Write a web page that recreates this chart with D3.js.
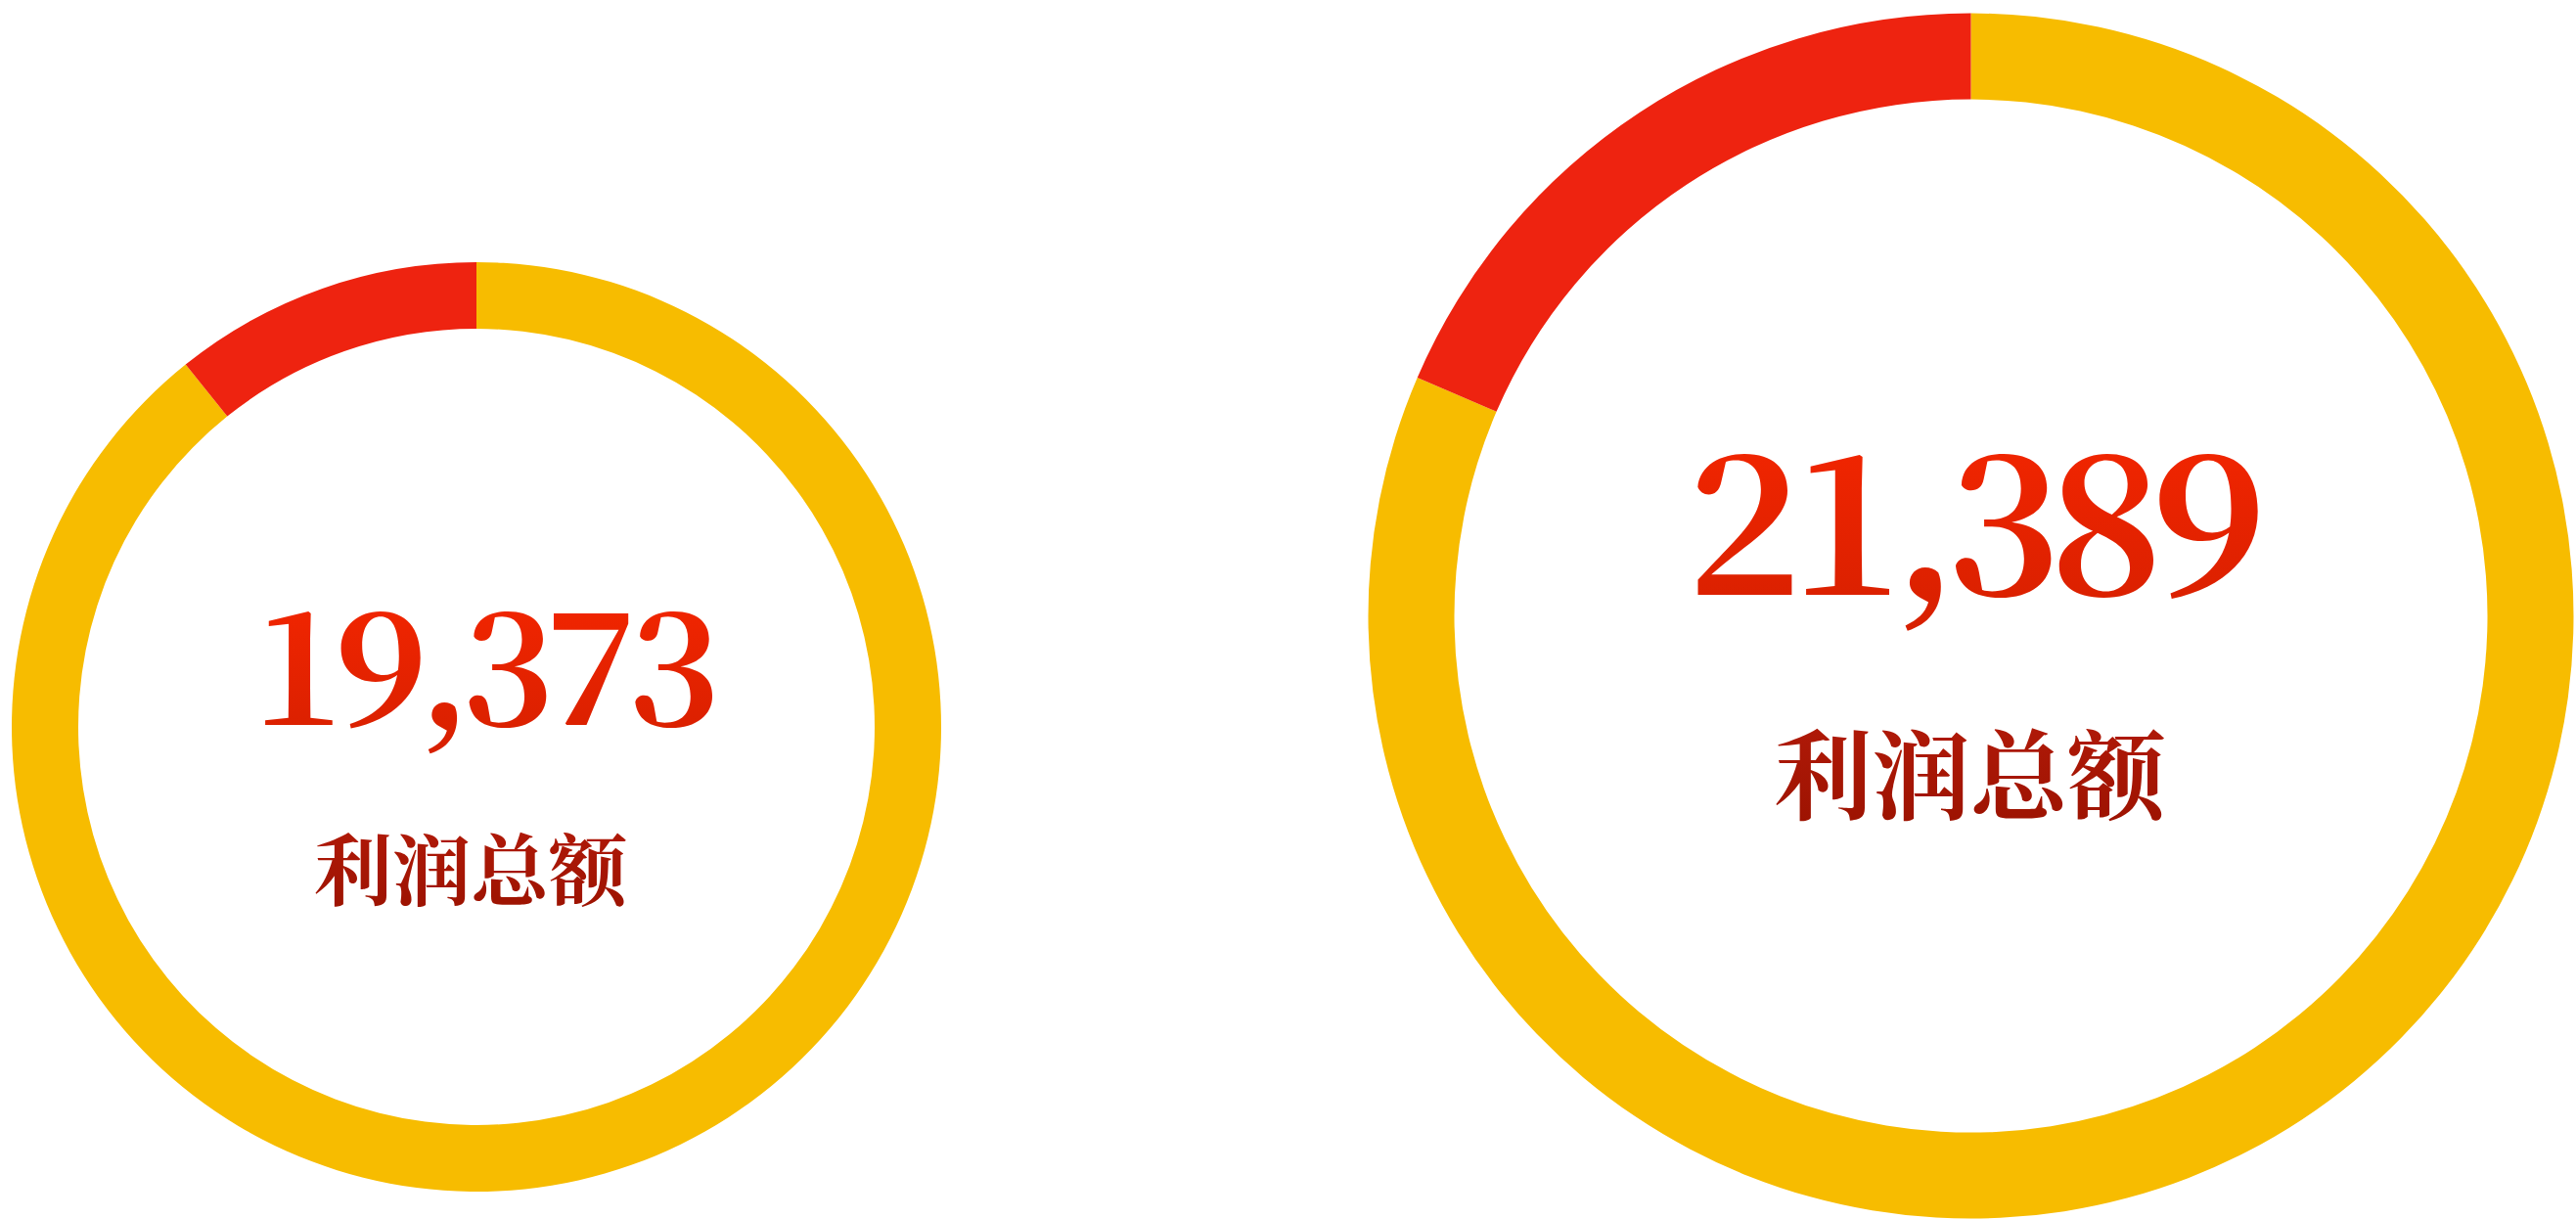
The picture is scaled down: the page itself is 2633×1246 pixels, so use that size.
<!DOCTYPE html>
<html>
<head>
<meta charset="utf-8">
<script src="https://cdn.jsdelivr.net/npm/d3@7"></script>
<style>
  html, body { margin: 0; padding: 0; background: #ffffff; }
  svg { display: block; }
</style>
</head>
<body>
<div id="chart"></div>
<script>
// Données
const donutLabels = ["利润总额", "利润总额"];
const totalValues = [19373, 21389];
const yellowValues = [17288, 17426];
const redValues = [2085, 3963];

// Mise en page (par anneau)
const layout = [
  { cx: 487, cy: 743, outer: 475, inner: 407, numSize: 160, numX: 5, numY: 741, labSize: 80, labX: -6, labY: 919 },
  { cx: 2014.5, cy: 629.6, outer: 616, inner: 528, numSize: 198, numX: 0, numY: 608, labSize: 100, labX: -1, labY: 830 }
];

const width = 2633;
const height = 1246;

const color = d3.scaleOrdinal()
  .domain(["yellow", "red"])
  .range(["#F7BC00", "#EE2310"]);

const svg = d3.select("#chart")
  .append("svg")
  .attr("width", width)
  .attr("height", height);

const defs = svg.append("defs");

// Dégradés du texte
const gradNum = defs.append("linearGradient")
  .attr("id", "gradNum")
  .attr("x1", 0).attr("y1", 0).attr("x2", 0).attr("y2", 1);
gradNum.append("stop").attr("offset", "0%").attr("stop-color", "#FB2700");
gradNum.append("stop").attr("offset", "100%").attr("stop-color", "#D41F00");

const gradLab = defs.append("linearGradient")
  .attr("id", "gradLab")
  .attr("x1", 0).attr("y1", 0).attr("x2", 0).attr("y2", 1);
gradLab.append("stop").attr("offset", "0%").attr("stop-color", "#B41B0A");
gradLab.append("stop").attr("offset", "100%").attr("stop-color", "#9A1200");

const pie = d3.pie()
  .sort(null)
  .value(d => d.value)
  .startAngle(0)
  .endAngle(2 * Math.PI);

const fmt = d3.format(",");

layout.forEach((L, i) => {
  const data = [
    { key: "yellow", value: yellowValues[i] },
    { key: "red", value: redValues[i] }
  ];

  const arc = d3.arc()
    .innerRadius(L.inner)
    .outerRadius(L.outer);

  const g = svg.append("g")
    .attr("transform", `translate(${L.cx}, ${L.cy})`);

  g.selectAll("path")
    .data(pie(data))
    .enter()
    .append("path")
    .attr("d", arc)
    .attr("fill", d => color(d.data.key));

  g.append("text")
    .attr("text-anchor", "middle")
    .attr("x", L.numX)
    .attr("y", L.numY - L.cy)
    .attr("font-family", "'Noto Serif CJK SC', 'Liberation Serif', serif")
    .attr("font-weight", 700)
    .attr("font-size", L.numSize + "px")
    .attr("letter-spacing", "-0.058em")
    .attr("fill", "url(#gradNum)")
    .text(fmt(totalValues[i]));

  g.append("text")
    .attr("text-anchor", "middle")
    .attr("x", L.labX)
    .attr("y", L.labY - L.cy)
    .attr("font-family", "'Noto Serif CJK SC', 'Noto Sans CJK SC', serif")
    .attr("font-weight", 700)
    .attr("font-size", L.labSize + "px")
    .attr("fill", "url(#gradLab)")
    .text(donutLabels[i]);
});
</script>
</body>
</html>
